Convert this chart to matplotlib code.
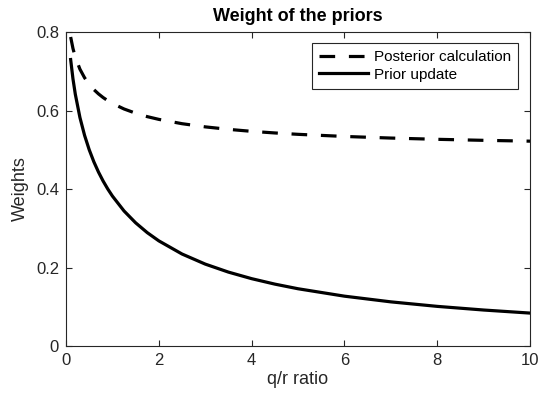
import matplotlib.pyplot as plt

plt.rcParams['font.family'] = ['Liberation Sans', 'DejaVu Sans']

# q/r ratio samples and the two weight curves
ratio = [0.1, 0.15, 0.2, 0.3, 0.4, 0.5, 0.6, 0.7, 0.8, 0.9, 1.0, 1.25, 1.5, 1.75,
         2.0, 2.5, 3.0, 3.5, 4.0, 4.5, 5.0, 6.0, 7.0, 8.0, 9.0, 10.0]
posterior_calc = [0.7873, 0.7579, 0.7362, 0.7053, 0.6834, 0.6667, 0.6533, 0.6423,
                  0.6330, 0.6250, 0.6180, 0.6039, 0.5931, 0.5844, 0.5774, 0.5664,
                  0.5583, 0.5520, 0.5469, 0.5428, 0.5393, 0.5339, 0.5298, 0.5266,
                  0.5240, 0.5219]
prior_update = [0.7298, 0.6805, 0.6417, 0.5821, 0.5367, 0.5000, 0.4693, 0.4431,
                0.4202, 0.4000, 0.3820, 0.3441, 0.3139, 0.2889, 0.2679, 0.2344,
                0.2087, 0.1883, 0.1716, 0.1577, 0.1459, 0.1270, 0.1125, 0.1010,
                0.0917, 0.0839]

xticks = [0, 2, 4, 6, 8, 10]
yticks = [0, 0.2, 0.4, 0.6, 0.8]

fig = plt.figure(figsize=(5.38, 4.03), dpi=100)
ax = fig.add_axes([0.1227, 0.1414, 0.8625, 0.7792])

ax.plot(ratio, posterior_calc, color='black', lw=2.3, linestyle=(0, (4.9, 4.3)),
        label='Posterior calculation')
ax.plot(ratio, prior_update, color='black', lw=2.3, label='Prior update')

ax.set_xlim(0, 10)
ax.set_ylim(0, 0.8)
ax.set_xticks(xticks)
ax.set_yticks(yticks)
ax.set_xticklabels([str(t) for t in xticks])
ax.set_yticklabels(['0', '0.2', '0.4', '0.6', '0.8'])

edge = '#262626'
for s in ax.spines.values():
    s.set_color(edge)
    s.set_linewidth(0.8)
ax.tick_params(direction='in', top=True, right=True, length=4, width=0.8,
               color=edge, labelcolor=edge, labelsize=12, pad=5)

ax.set_xlabel('q/r ratio', fontsize=13, color=edge, labelpad=2)
ax.set_ylabel('Weights', fontsize=13, color=edge, labelpad=5)
ax.set_title('Weight of the priors', fontsize=13, fontweight='bold', pad=8)

leg = ax.legend(loc='upper right', fontsize=11, handlelength=3.2, handletextpad=0.4,
                borderpad=0.45, labelspacing=0.25, fancybox=False, framealpha=1,
                edgecolor=edge, borderaxespad=0, bbox_to_anchor=(0.974, 0.965))
leg.get_frame().set_linewidth(0.8)

fig.savefig('out.png', dpi=100)
